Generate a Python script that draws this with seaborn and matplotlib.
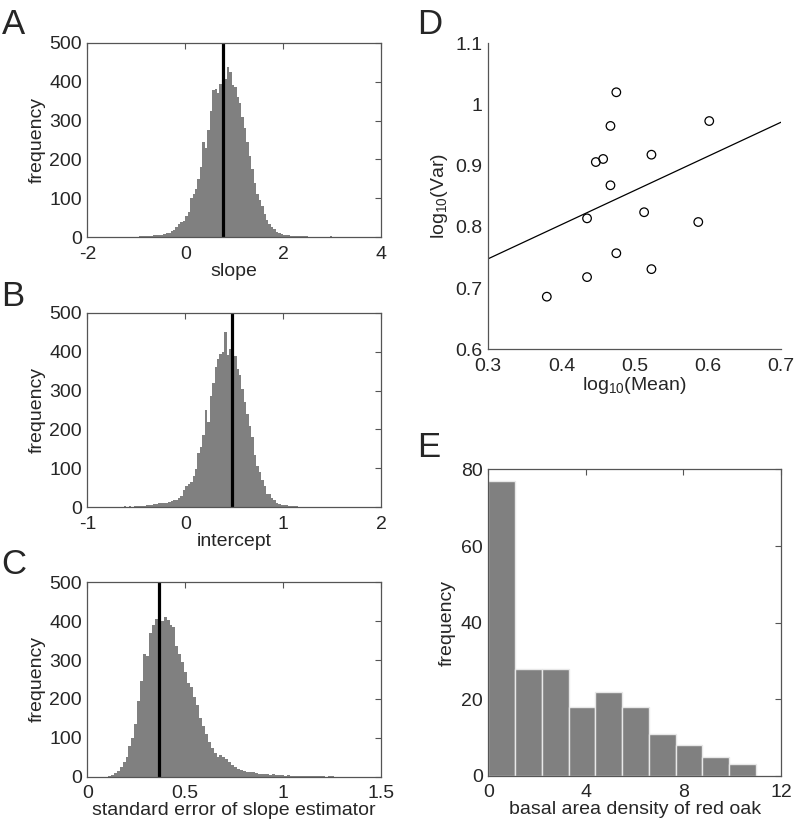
import numpy as np
import pandas as pd
import seaborn as sns
import matplotlib.pyplot as plt
from matplotlib.ticker import FormatStrFormatter

# ---- panel A: bootstrap slopes (bin counts)
a_start, a_width = -1.0, 0.05
a_counts = [1, 2, 2, 3, 3, 4, 4, 5, 6, 5, 7, 8, 10, 12, 15, 19, 26, 33, 40, 42,
            55, 65, 100, 110, 125, 150, 180, 245, 230, 275, 325, 378, 380, 372, 395, 410,
            408, 438, 425, 392, 385, 360, 345, 310, 280, 245, 210, 175, 140, 110, 95,
            80, 60, 45, 35, 26, 20, 14, 10, 8, 6, 6, 5, 4, 4, 3, 3, 2, 2, 2, 1, 1, 1,
            1, 1, 1, 1, 0, 1, 2, 1]
a_mean = 0.77

# ---- panel B: bootstrap intercepts
b_start, b_width = -0.65, 0.025
b_counts = [2, 3, 2, 3, 2, 3, 3, 4, 3, 4, 5, 5, 6, 8, 9, 10, 10, 11, 12, 14, 16, 18,
            20, 24, 30, 45, 55, 60, 65, 80, 98, 140, 155, 185, 250, 220, 285, 320, 360,
            380, 395, 400, 450, 392, 408, 375, 388, 355, 340, 305, 270, 240, 210, 180,
            135, 105, 90, 70, 55, 35, 33, 25, 18, 12, 9, 7, 6, 5, 4, 4, 3, 3, 2, 2, 2,
            1, 1, 1]
b_mean = 0.48

# ---- panel C: standard error of slope estimator
c_start, c_width = 0.105, 0.015
c_counts = [2, 5, 9, 15, 25, 38, 50, 80, 100, 135, 195, 245, 315, 310, 370, 390, 405,
            385, 400, 410, 402, 390, 385, 335, 315, 295, 270, 240, 230, 205, 185, 150,
            130, 110, 90, 75, 60, 50, 55, 52, 45, 38, 30, 25, 20, 17, 15, 13, 12, 11, 9,
            8, 8, 7, 6, 5, 6, 5, 4, 5, 3, 4, 3, 2, 3, 2, 2, 3, 2, 1, 1, 1, 1, 1, 0, 2, 1]
c_mean = 0.366

# ---- panel D: log10 mean vs log10 variance
d_mean = [0.380, 0.435, 0.435, 0.447, 0.457, 0.467, 0.467, 0.475, 0.475, 0.513,
          0.523, 0.523, 0.587, 0.602]
d_var = [0.686, 0.718, 0.814, 0.906, 0.911, 0.868, 0.965, 1.020, 0.757, 0.824,
         0.918, 0.731, 0.808, 0.973]
d_line_x = [0.3, 0.7]
d_line_y = [0.748, 0.971]

# ---- panel E: basal area density of red oak
e_start, e_width = 0.0, 1.097
e_counts = [77, 28, 28, 18, 22, 18, 11, 8, 5, 3]

sns.set_style("white")
plt.rcParams['font.family'] = ['Liberation Sans', 'DejaVu Sans']
plt.rcParams['mathtext.default'] = 'regular'
plt.rcParams['font.size'] = 14

GRAY = '#808080'
SPINE = '#555555'

fig = plt.figure(figsize=(7.99, 8.25), dpi=100)


def binned(start, width, counts):
    edges = start + width * np.arange(len(counts) + 1)
    df = pd.DataFrame({'center': (edges[:-1] + edges[1:]) / 2,
                       'count': np.asarray(counts, dtype=float)})
    return df, list(edges)


def style_axes(ax, box=True):
    for side, sp in ax.spines.items():
        sp.set_color(SPINE)
        sp.set_linewidth(0.9)
        if not box and side in ('top', 'right'):
            sp.set_visible(False)
    ax.tick_params(direction='in', length=4, width=0.8, color=SPINE,
                   labelsize=14, top=box, right=box)
    ax.tick_params(axis='x', pad=6)
    ax.tick_params(axis='y', pad=4)


def hist_panel(rect, start, width, counts, mean, xlim, xticks, xlabel):
    ax = fig.add_axes(rect)
    df, edges = binned(start, width, counts)
    sns.histplot(data=df, x='center', weights='count', bins=edges, color=GRAY,
                 alpha=1, linewidth=0, ax=ax)
    ax.axvline(mean, color='black', lw=2.3)
    ax.set_xlim(*xlim)
    ax.set_ylim(0, 500)
    ax.set_xticks(xticks)
    ax.set_yticks([0, 100, 200, 300, 400, 500])
    ax.xaxis.set_major_formatter(FormatStrFormatter('%g'))
    ax.set_xlabel(xlabel, fontsize=14, labelpad=0)
    ax.set_ylabel('frequency', fontsize=14, labelpad=2)
    style_axes(ax)
    return ax


hist_panel([0.1093, 0.7124, 0.3675, 0.2358], a_start, a_width, a_counts, a_mean,
           (-2, 4), [-2, 0, 2, 4], 'slope')
hist_panel([0.1093, 0.3851, 0.3675, 0.2358], b_start, b_width, b_counts, b_mean,
           (-1, 2), [-1, 0, 1, 2], 'intercept')
hist_panel([0.1093, 0.0585, 0.3675, 0.2358], c_start, c_width, c_counts, c_mean,
           (0, 1.5), [0, 0.5, 1, 1.5], 'standard error of slope estimator')

# D: scatter with fitted line
axd = fig.add_axes([0.6111, 0.5766, 0.3663, 0.3709])
sns.lineplot(x=d_line_x, y=d_line_y, color='black', lw=0.9, ax=axd)
sns.scatterplot(x=d_mean, y=d_var, marker='o', s=38, facecolor='none',
                edgecolor='black', linewidth=0.9, ax=axd)
axd.set_xlim(0.3, 0.7)
axd.set_ylim(0.6, 1.1)
axd.set_xticks([0.3, 0.4, 0.5, 0.6, 0.7])
axd.set_yticks([0.6, 0.7, 0.8, 0.9, 1.0, 1.1])
axd.xaxis.set_major_formatter(FormatStrFormatter('%g'))
axd.yaxis.set_major_formatter(FormatStrFormatter('%g'))
axd.set_xlabel('log$_{10}$(Mean)', fontsize=14, labelpad=0)
axd.set_ylabel('log$_{10}$(Var)', fontsize=14, labelpad=4)
style_axes(axd, box=False)

# E: histogram of basal area density
axe = fig.add_axes([0.6111, 0.0594, 0.3663, 0.3717])
e_df, e_edges = binned(e_start, e_width, e_counts)
sns.histplot(data=e_df, x='center', weights='count', bins=e_edges, color=GRAY,
             alpha=1, edgecolor='#e8e8e8', linewidth=1.0, ax=axe)
axe.set_xlim(0, 12)
axe.set_ylim(0, 80)
axe.set_xticks([0, 4, 8, 12])
axe.set_yticks([0, 20, 40, 60, 80])
axe.set_xlabel('basal area density of red oak', fontsize=14, labelpad=0)
axe.set_ylabel('frequency', fontsize=14, labelpad=4)
style_axes(axe)

# panel letters
for letter, x, y in [('A', 0.002, 0.99), ('B', 0.002, 0.66), ('C', 0.002, 0.336),
                     ('D', 0.522, 0.99), ('E', 0.522, 0.477)]:
    fig.text(x, y, letter, fontsize=25, ha='left', va='top')

fig.savefig('out.png', dpi=100)
